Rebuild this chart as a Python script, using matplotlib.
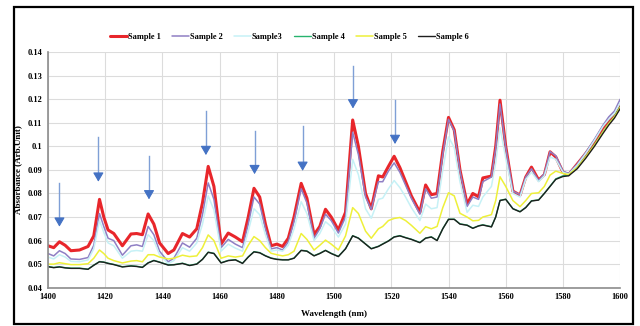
import matplotlib
matplotlib.use("Agg")
from matplotlib import pyplot as plt
from matplotlib.patches import Rectangle

# wavelength grid (nm)
wl = [1400, 1402, 1404, 1406, 1408, 1411, 1414, 1416, 1418, 1419.5, 1421, 1423, 1426, 1429, 1431,
      1433, 1435, 1437, 1439, 1442, 1444, 1447, 1449.5, 1452, 1454, 1456, 1458, 1460.5, 1463, 1465.5,
      1468, 1470, 1472, 1474, 1476, 1478, 1480, 1482, 1484, 1486, 1488.5, 1490.5, 1493, 1495, 1497,
      1499, 1501.5, 1504, 1506.5, 1508.5, 1511, 1513, 1515.5, 1517, 1519, 1521, 1523, 1525, 1527, 1530,
      1532, 1534, 1536, 1538, 1540, 1542, 1544, 1546.5, 1548.5, 1550.5, 1552, 1555, 1556.5, 1558, 1560,
      1562.5, 1565, 1567, 1569, 1571.5, 1573.5, 1575.5, 1577.5, 1580, 1582, 1585, 1588, 1591, 1594,
      1596, 1598, 1600]

sample1 = [0.0578, 0.0570, 0.0595, 0.0580, 0.0557, 0.0560, 0.0575, 0.0620, 0.0775, 0.0700, 0.0645,
           0.0630, 0.0578, 0.0628, 0.0630, 0.0625, 0.0713, 0.0670, 0.0590, 0.0545, 0.0560, 0.0630,
           0.0615, 0.0650, 0.0760, 0.0915, 0.0830, 0.0585, 0.0632, 0.0615, 0.0595, 0.0700, 0.0822,
           0.0785, 0.0670, 0.0578, 0.0585, 0.0575, 0.0610, 0.0700, 0.0843, 0.0780, 0.0625, 0.0660,
           0.0733, 0.0700, 0.0645, 0.0720, 0.1112, 0.1000, 0.0800, 0.0735, 0.0875, 0.0870, 0.0915,
           0.0958, 0.0910, 0.0850, 0.0790, 0.0720, 0.0836, 0.0795, 0.0800, 0.0980, 0.1123, 0.1070,
           0.0900, 0.0755, 0.0800, 0.0786, 0.0866, 0.0874, 0.1000, 0.1196, 0.1000, 0.0810, 0.0793,
           0.0870, 0.0912, 0.0857, 0.0880, 0.0977, 0.0955, 0.0890, 0.0880, 0.0925, 0.0970, 0.1020,
           0.1080, 0.1110, 0.1130, 0.1170]

sample2 = [0.0545, 0.0535, 0.0557, 0.0545, 0.0522, 0.0520, 0.0528, 0.0580, 0.0715, 0.0660, 0.0610,
           0.0600, 0.0538, 0.0578, 0.0582, 0.0575, 0.0660, 0.0625, 0.0555, 0.0510, 0.0525, 0.0590,
           0.0572, 0.0610, 0.0710, 0.0845, 0.0775, 0.0570, 0.0605, 0.0585, 0.0570, 0.0670, 0.0785,
           0.0755, 0.0650, 0.0565, 0.0570, 0.0560, 0.0595, 0.0680, 0.0820, 0.0760, 0.0610, 0.0650,
           0.0712, 0.0685, 0.0632, 0.0700, 0.1060, 0.0965, 0.0785, 0.0732, 0.0850, 0.0850, 0.0895,
           0.0930, 0.0890, 0.0835, 0.0780, 0.0712, 0.0820, 0.0780, 0.0785, 0.0965, 0.1115, 0.1065,
           0.0895, 0.0745, 0.0785, 0.0775, 0.0850, 0.0870, 0.0990, 0.1180, 0.0995, 0.0810, 0.0795,
           0.0870, 0.0905, 0.0855, 0.0885, 0.0978, 0.0960, 0.0895, 0.0885, 0.0925, 0.0975, 0.1030,
           0.1090, 0.1125, 0.1150, 0.1200]

sample3 = [0.0530, 0.0522, 0.0540, 0.0530, 0.0512, 0.0510, 0.0518, 0.0565, 0.0685, 0.0635, 0.0590,
           0.0578, 0.0525, 0.0555, 0.0558, 0.0555, 0.0625, 0.0600, 0.0540, 0.0502, 0.0515, 0.0570,
           0.0555, 0.0590, 0.0670, 0.0790, 0.0730, 0.0555, 0.0585, 0.0568, 0.0555, 0.0640, 0.0735,
           0.0710, 0.0625, 0.0555, 0.0560, 0.0555, 0.0580, 0.0650, 0.0765, 0.0715, 0.0600, 0.0630,
           0.0680, 0.0660, 0.0615, 0.0670, 0.0945, 0.0880, 0.0735, 0.0695, 0.0775, 0.0780, 0.0820,
           0.0855, 0.0825, 0.0785, 0.0740, 0.0685, 0.0755, 0.0735, 0.0740, 0.0900, 0.1040, 0.0995,
           0.0850, 0.0720, 0.0750, 0.0745, 0.0785, 0.0830, 0.0930, 0.1080, 0.0950, 0.0800, 0.0785,
           0.0860, 0.0890, 0.0850, 0.0875, 0.0955, 0.0945, 0.0890, 0.0882, 0.0920, 0.0970, 0.1025,
           0.1085, 0.1115, 0.1140, 0.1185]

sample4 = [0.0490, 0.0486, 0.0489, 0.0485, 0.0483, 0.0483, 0.0479, 0.0496, 0.0511, 0.0509, 0.0504,
           0.0499, 0.0489, 0.0493, 0.0491, 0.0487, 0.0506, 0.0516, 0.0509, 0.0497, 0.0498, 0.0504,
           0.0495, 0.0501, 0.0521, 0.0551, 0.0546, 0.0506, 0.0516, 0.0519, 0.0504, 0.0531, 0.0553,
           0.0549, 0.0536, 0.0526, 0.0521, 0.0519, 0.0519, 0.0526, 0.0559, 0.0556, 0.0536, 0.0546,
           0.0559, 0.0546, 0.0533, 0.0566, 0.0621, 0.0611, 0.0586, 0.0566, 0.0576, 0.0586, 0.0599,
           0.0616, 0.0621, 0.0613, 0.0606, 0.0592, 0.0611, 0.0616, 0.0601, 0.0651, 0.0691, 0.0691,
           0.0671, 0.0666, 0.0653, 0.0663, 0.0667, 0.0659, 0.0701, 0.0771, 0.0776, 0.0736, 0.0723,
           0.0741, 0.0769, 0.0773, 0.0801, 0.0831, 0.0862, 0.0875, 0.0878, 0.0910, 0.0956, 0.1007,
           0.1062, 0.1097, 0.1127, 0.1168]

sample5 = [0.0500, 0.0500, 0.0506, 0.0502, 0.0498, 0.0498, 0.0502, 0.0525, 0.0560, 0.0545, 0.0525,
           0.0515, 0.0505, 0.0513, 0.0515, 0.0510, 0.0540, 0.0540, 0.0530, 0.0522, 0.0525, 0.0538,
           0.0532, 0.0535, 0.0570, 0.0624, 0.0600, 0.0525, 0.0535, 0.0530, 0.0535, 0.0580, 0.0617,
           0.0600, 0.0570, 0.0546, 0.0540, 0.0535, 0.0540, 0.0555, 0.0630, 0.0605, 0.0560, 0.0580,
           0.0602, 0.0585, 0.0560, 0.0620, 0.0740, 0.0715, 0.0640, 0.0610, 0.0650, 0.0660, 0.0685,
           0.0694, 0.0698, 0.0685, 0.0665, 0.0631, 0.0659, 0.0650, 0.0660, 0.0740, 0.0803, 0.0790,
           0.0716, 0.0700, 0.0684, 0.0686, 0.0700, 0.0710, 0.0770, 0.0871, 0.0830, 0.0770, 0.0744,
           0.0770, 0.0800, 0.0803, 0.0830, 0.0878, 0.0895, 0.0885, 0.0880, 0.0910, 0.0955, 0.1005,
           0.1060, 0.1095, 0.1125, 0.1165]

sample6 = [0.0489, 0.0485, 0.0488, 0.0484, 0.0482, 0.0482, 0.0478, 0.0495, 0.0510, 0.0508, 0.0503,
           0.0498, 0.0488, 0.0492, 0.0490, 0.0486, 0.0505, 0.0515, 0.0508, 0.0496, 0.0497, 0.0503,
           0.0494, 0.0500, 0.0520, 0.0550, 0.0545, 0.0505, 0.0515, 0.0518, 0.0503, 0.0530, 0.0552,
           0.0548, 0.0535, 0.0525, 0.0520, 0.0518, 0.0518, 0.0525, 0.0558, 0.0555, 0.0535, 0.0545,
           0.0558, 0.0545, 0.0532, 0.0565, 0.0620, 0.0610, 0.0585, 0.0565, 0.0575, 0.0585, 0.0598,
           0.0615, 0.0620, 0.0612, 0.0605, 0.0591, 0.0610, 0.0615, 0.0600, 0.0650, 0.0690, 0.0690,
           0.0670, 0.0665, 0.0652, 0.0662, 0.0666, 0.0658, 0.0700, 0.0770, 0.0775, 0.0735, 0.0722,
           0.0740, 0.0768, 0.0772, 0.0800, 0.0830, 0.0860, 0.0872, 0.0875, 0.0905, 0.0950, 0.1000,
           0.1055, 0.1090, 0.1120, 0.1160]

names = ["Sample 1", "Sample 2", "Sample3", "Sample 4", "Sample 5", "Sample 6"]
series = [sample1, sample2, sample3, sample4, sample5, sample6]
colors = ["#e8262b", "#8f7fc4", "#c6f1f6", "#27b36e", "#eef03a", "#1e1e1e"]
widths = [2.2, 1.1, 1.1, 1.0, 1.1, 1.0]

# arrows: wavelength, shaft top, arrow tip (absorbance)
arrow_wl = [1404, 1417.6, 1435.3, 1455.2, 1472.2, 1489, 1506.6, 1521.3]
arrow_top = [0.0845, 0.1038, 0.0960, 0.1150, 0.1066, 0.1086, 0.1342, 0.1196]
arrow_tip = [0.0659, 0.0850, 0.0775, 0.0963, 0.0882, 0.0896, 0.1161, 0.1010]

plt.rcParams["font.family"] = ["Liberation Serif", "DejaVu Serif"]
plt.rcParams["font.weight"] = "bold"

fig = plt.figure(figsize=(6.4, 3.26), dpi=100)
ax = fig.add_axes([0.075, 0.1175, 0.894, 0.7225])

for ys, name, c, lw in zip(series, names, colors, widths):
    ax.plot(wl, ys, color=c, lw=lw, label=name, solid_joinstyle="round", solid_capstyle="round")

for x, top, tip in zip(arrow_wl, arrow_top, arrow_tip):
    head = 0.0028
    ax.plot([x, x], [top, tip + head], color="#7f9fd6", lw=1.0)
    ax.annotate("", xy=(x, tip), xytext=(x, tip + head),
                arrowprops=dict(arrowstyle="-|>,head_width=0.32,head_length=0.55",
                                color="#4472c4", lw=0.8, shrinkA=0, shrinkB=0))

ax.set_xlim(1400, 1600)
ax.set_ylim(0.04, 0.14)
ax.set_xticks(range(1400, 1601, 20))
yt = [0.04 + 0.01 * i for i in range(11)]
ax.set_yticks(yt)
ax.set_yticklabels(["{:g}".format(round(v, 2)) for v in yt])
ax.tick_params(length=0, labelsize=6, pad=4)
ax.grid(True, color="#dcdcdc", lw=0.8)
ax.set_axisbelow(True)
for s in ["top", "right"]:
    ax.spines[s].set_visible(False)
ax.spines["left"].set_color("#8c8c8c")
ax.spines["bottom"].set_color("#8c8c8c")
ax.spines["left"].set_linewidth(1.2)
ax.spines["bottom"].set_linewidth(1.2)

ax.set_xlabel("Wavelength (nm)", fontsize=6.5, fontweight="bold", labelpad=6)
ax.set_ylabel("Absorbance (Arb.Unit)", fontsize=6.5, fontweight="bold", labelpad=4)

fig.legend(loc="center", bbox_to_anchor=(0.452, 0.886), ncol=6, frameon=False,
           fontsize=6, handlelength=2.0, columnspacing=1.4, handletextpad=0.1)

fig.patches.append(Rectangle((14 / 640, 2 / 326), 619 / 640, 317 / 326, transform=fig.transFigure,
                             fill=False, edgecolor="black", lw=1.6))

fig.savefig("out.png", dpi=100)
